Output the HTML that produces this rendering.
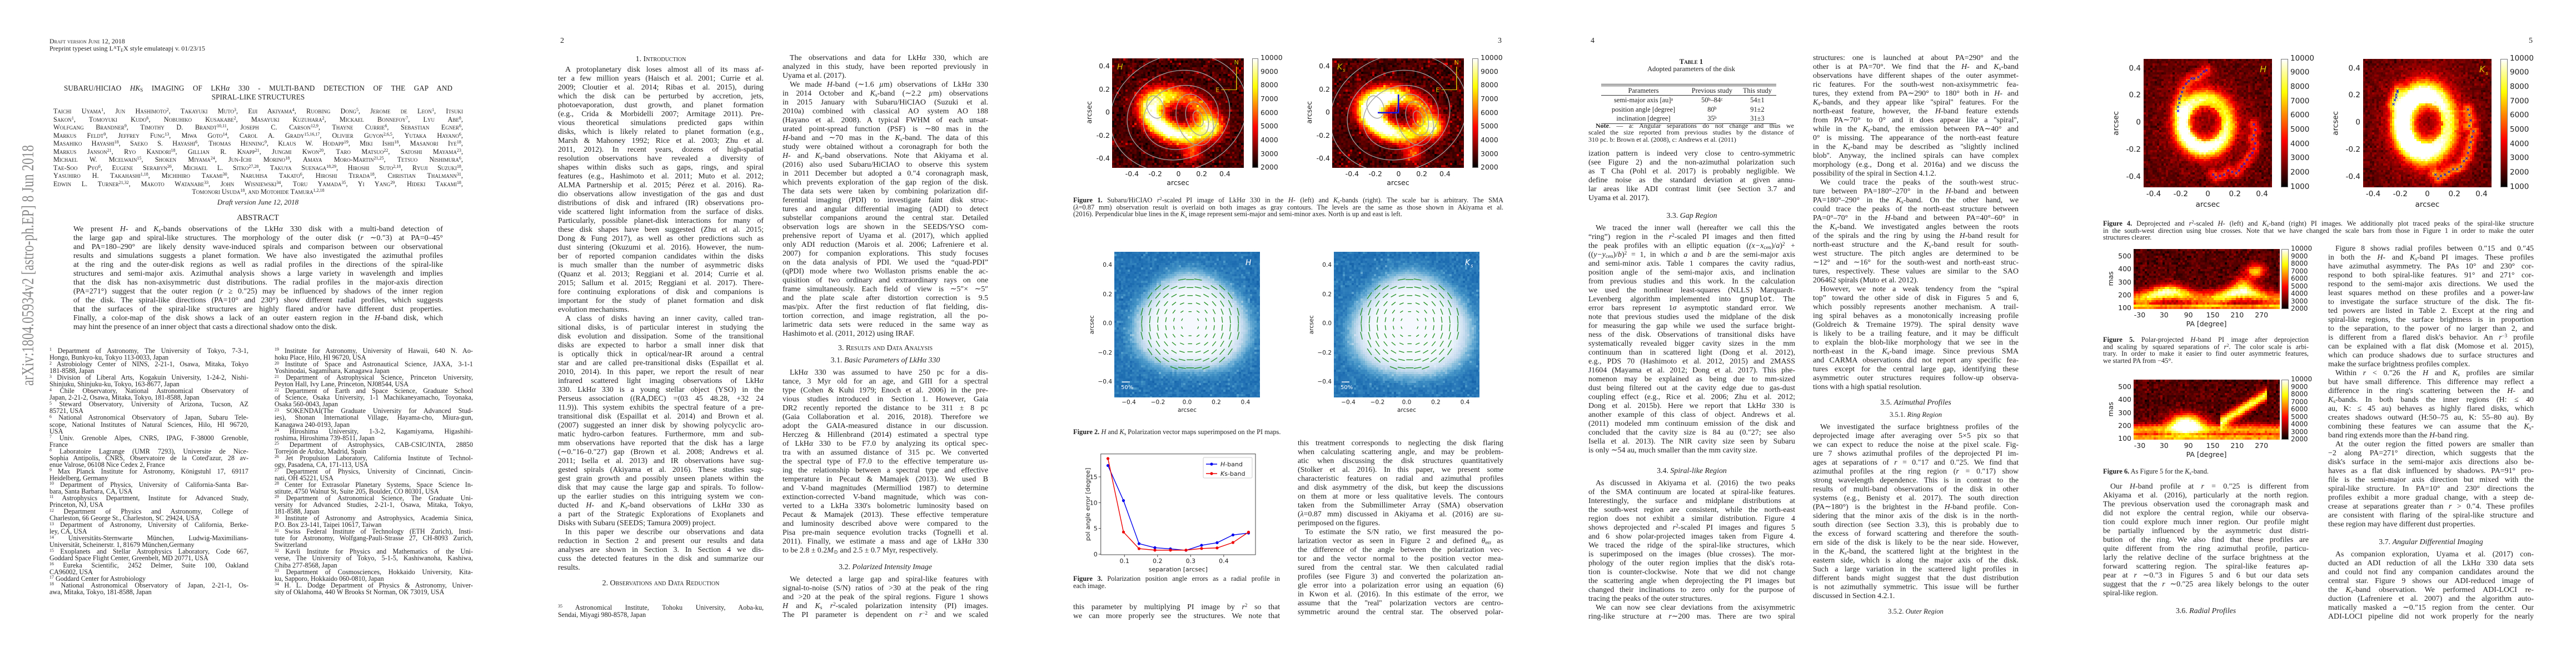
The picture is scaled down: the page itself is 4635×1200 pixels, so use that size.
<!DOCTYPE html>
<html><head><meta charset="utf-8">
<style>
html,body{margin:0;padding:0;background:#fff}
#root{position:relative;width:4635px;height:1200px;overflow:hidden;background:#fff;color:#1e1e1e;font-family:"Liberation Serif",serif}
.a{position:absolute}
.col{position:absolute;font-size:13.9px;line-height:16px}
.p{text-align:justify;text-align-last:justify}
.p .e{text-align-last:left;text-indent:0}
.i{text-indent:13px}
.h{position:absolute;text-align:center;font-size:13.9px;line-height:16px;white-space:nowrap}
.sc{font-variant:small-caps}
.fn{position:absolute;font-size:12.2px;line-height:12.05px}
.cap{position:absolute;font-size:12.4px;line-height:12.7px}
sup{font-size:.65em;vertical-align:0;position:relative;top:-.45em;line-height:0}
sub{font-size:.7em;vertical-align:0;position:relative;top:.25em;line-height:0}
.pn{position:absolute;top:66px;font-size:14px;line-height:16px}
.lab{position:absolute;font-family:"DejaVu Sans","Liberation Sans",sans-serif;white-space:nowrap;line-height:1}
.cb{position:absolute;background:linear-gradient(to top,#000 0%,#f00 36.5%,#ff0 74.6%,#fff 100%);border:1px solid #777;box-sizing:border-box}
table.t{border-collapse:collapse;font-size:12.4px;line-height:14.4px}
</style></head>
<body><div id="root">

<!-- ================= PAGE 1 ================= -->
<div class="a" style="left:89px;top:68px;font-size:12px;line-height:13px;white-space:nowrap">
<div class="sc">Draft version June 12, 2018</div>
<div>Preprint typeset using L<sup>A</sup>T<sub>E</sub>X style emulateapj v. 01/23/15</div>
</div>

<svg class="a" style="left:20px;top:250px" width="50" height="460">
<text transform="translate(40,444) rotate(-90)" font-family="Liberation Serif, serif" font-size="31" fill="#8a8a8a" textLength="433" lengthAdjust="spacingAndGlyphs">arXiv:1804.05934v2  [astro-ph.EP]  8 Jun 2018</text>
</svg>

<div class="col" style="left:115px;top:151px;width:699px;font-size:13.2px;text-transform:uppercase">
<div class="p">Subaru/HiCIAO <i style="text-transform:none">HK</i><sub>S</sub> Imaging of LkH<i style="text-transform:none">α</i> 330 - Multi-band detection of the gap and</div>
<div style="text-align:center">Spiral-like structures</div>
</div>

<div class="col sc" style="left:96px;top:193px;width:737px;font-size:12.3px;line-height:14.5px">
<div class="p">Taichi Uyama<sup>1</sup>, Jun Hashimoto<sup>2</sup>, Takayuki Muto<sup>3</sup>, Eiji Akiyama<sup>4</sup>, Ruobing Dong<sup>5</sup>, Jerome de Leon<sup>1</sup>, Itsuki<br>Sakon<sup>1</sup>, Tomoyuki Kudo<sup>6</sup>, Nobuhiko Kusakabe<sup>2</sup>, Masayuki Kuzuhara<sup>2</sup>, Mickael Bonnefoy<sup>7</sup>, Lyu Abe<sup>8</sup>,<br>Wolfgang Brandner<sup>9</sup>, Timothy D. Brandt<sup>10,11</sup>, Joseph C. Carson<sup>12,9</sup>, Thayne Currie<sup>6</sup>, Sebastian Egner<sup>6</sup>,<br>Markus Feldt<sup>9</sup>, Jeffrey Fung<sup>13</sup>, Miwa Goto<sup>14</sup>, Carol A. Grady<sup>15,16,17</sup>, Olivier Guyon<sup>2,6,5</sup>, Yutaka Hayano<sup>6</sup>,<br>Masahiko Hayashi<sup>18</sup>, Saeko S. Hayashi<sup>6</sup>, Thomas Henning<sup>9</sup>, Klaus W. Hodapp<sup>19</sup>, Miki Ishii<sup>18</sup>, Masanori Iye<sup>18</sup>,<br>Markus Janson<sup>21</sup>, Ryo Kandori<sup>18</sup>, Gillian R. Knapp<sup>21</sup>, Jungmi Kwon<sup>20</sup>, Taro Matsuo<sup>22</sup>, Satoshi Mayama<sup>23</sup>,<br>Michael W. Mcelwain<sup>15</sup>, Shoken Miyama<sup>24</sup>, Jun-Ichi Morino<sup>18</sup>, Amaya Moro-Martin<sup>21,25</sup>, Tetsuo Nishimura<sup>6</sup>,<br>Tae-Soo Pyo<sup>6</sup>, Eugene Serabyn<sup>26</sup>, Michael L. Sitko<sup>27,28</sup>, Takuya Suenaga<sup>18,29</sup>, Hiroshi Suto<sup>2,18</sup>, Ryuji Suzuki<sup>18</sup>,<br>Yasuhiro H. Takahashi<sup>1,18</sup>, Michihiro Takami<sup>30</sup>, Naruhisa Takato<sup>6</sup>, Hiroshi Terada<sup>18</sup>, Christian Thalmann<sup>31</sup>,<br>Edwin L. Turner<sup>21,32</sup>, Makoto Watanabe<sup>33</sup>, John Wisniewski<sup>34</sup>, Toru Yamada<sup>35</sup>, Yi Yang<sup>29</sup>, Hideki Takami<sup>18</sup>,</div>
<div style="text-align:center">Tomonori Usuda<sup>18</sup>, and Motohide Tamura<sup>1,2,18</sup></div>
</div>

<div class="h" style="left:364px;width:200px;top:356px;font-size:13px;font-style:italic">Draft version June 12, 2018</div>
<div class="h" style="left:364px;width:200px;top:384px;font-size:14.5px">ABSTRACT</div>

<div class="col" style="left:132px;top:405px;width:665px">
<div class="p">We present <i>H</i>- and <i>K</i><sub>s</sub>-bands observations of the LkH<i>α</i> 330 disk with a multi-band detection of<br>the large gap and spiral-like structures. The morphology of the outer disk (<i>r</i> ∼0.″3) at PA=0–45°<br>and PA=180–290° are likely density wave-induced spirals and comparison between our observational<br>results and simulations suggests a planet formation. We have also investigated the azimuthal profiles<br>at the ring and the outer-disk regions as well as radial profiles in the directions of the spiral-like<br>structures and semi-major axis. Azimuthal analysis shows a large variety in wavelength and implies<br>that the disk has non-axisymmetric dust distributions. The radial profiles in the major-axis direction<br>(PA=271°) suggest that the outer region (<i>r</i> ≥ 0.″25) may be influenced by shadows of the inner region<br>of the disk. The spiral-like directions (PA=10° and 230°) show different radial profiles, which suggests<br>that the surfaces of the spiral-like structures are highly flared and/or have different dust properties.<br>Finally, a color-map of the disk shows a lack of an outer eastern region in the <i>H</i>-band disk, which<div class="e">may hint the presence of an inner object that casts a directional shadow onto the disk.</div></div>
</div>

<div class="fn" style="left:89px;top:625px;width:358px">
<div class="p"><sup>1</sup> Department of Astronomy, The University of Tokyo, 7-3-1,<div class="e">Hongo, Bunkyo-ku, Tokyo 113-0033, Japan</div></div>
<div class="p"><sup>2</sup> Astrobiology Center of NINS, 2-21-1, Osawa, Mitaka, Tokyo<div class="e">181-8588, Japan</div></div>
<div class="p"><sup>3</sup> Division of Liberal Arts, Kogakuin University, 1-24-2, Nishi-<div class="e">Shinjuku, Shinjuku-ku, Tokyo, 163-8677, Japan</div></div>
<div class="p"><sup>4</sup> Chile Observatory, National Astronomical Observatory of<div class="e">Japan, 2-21-2, Osawa, Mitaka, Tokyo, 181-8588, Japan</div></div>
<div class="p"><sup>5</sup> Steward Observatory, University of Arizona, Tucson, AZ<div class="e">85721, USA</div></div>
<div class="p"><sup>6</sup> National Astronomical Observatory of Japan, Subaru Tele-<br>scope, National Institutes of Natural Sciences, Hilo, HI 96720,<div class="e">USA</div></div>
<div class="p"><sup>7</sup> Univ. Grenoble Alpes, CNRS, IPAG, F-38000 Grenoble,<div class="e">France</div></div>
<div class="p"><sup>8</sup> Laboratoire Lagrange (UMR 7293), Universite de Nice-<br>Sophia Antipolis, CNRS, Observatoire de la Coted'azur, 28 av-<div class="e">enue Valrose, 06108 Nice Cedex 2, France</div></div>
<div class="p"><sup>9</sup> Max Planck Institute for Astronomy, Königstuhl 17, 69117<div class="e">Heidelberg, Germany</div></div>
<div class="p"><sup>10</sup> Department of Physics, University of California-Santa Bar-<div class="e">bara, Santa Barbara, CA, USA</div></div>
<div class="p"><sup>11</sup> Astrophysics Department, Institute for Advanced Study,<div class="e">Princeton, NJ, USA</div></div>
<div class="p"><sup>12</sup> Department of Physics and Astronomy, College of<div class="e">Charleston, 66 George St., Charleston, SC 29424, USA</div></div>
<div class="p"><sup>13</sup> Department of Astronomy, University of California, Berke-<div class="e">ley, CA, USA</div></div>
<div class="p"><sup>14</sup> Universitäts-Sternwarte München, Ludwig-Maximilians-<div class="e">Universität, Scheinerstr. 1, 81679 München,Germany</div></div>
<div class="p"><sup>15</sup> Exoplanets and Stellar Astrophysics Laboratory, Code 667,<div class="e">Goddard Space Flight Center, Greenbelt, MD 20771, USA</div></div>
<div class="p"><sup>16</sup> Eureka Scientific, 2452 Delmer, Suite 100, Oakland<div class="e">CA96002, USA</div></div>
<div class="p"><div class="e"><sup>17</sup> Goddard Center for Astrobiology</div></div>
<div class="p"><sup>18</sup> National Astronomical Observatory of Japan, 2-21-1, Os-<div class="e">awa, Mitaka, Tokyo, 181-8588, Japan</div></div>
</div>

<div class="fn" style="left:494px;top:625px;width:357px">
<div class="p"><sup>19</sup> Institute for Astronomy, University of Hawaii, 640 N. Ao-<div class="e">hoku Place, Hilo, HI 96720, USA</div></div>
<div class="p"><sup>20</sup> Institute of Space and Astronautical Science, JAXA, 3-1-1<div class="e">Yoshinodai, Sagamihara, Kanagawa Japan</div></div>
<div class="p"><sup>21</sup> Department of Astrophysical Science, Princeton University,<div class="e">Peyton Hall, Ivy Lane, Princeton, NJ08544, USA</div></div>
<div class="p"><sup>22</sup> Department of Earth and Space Science, Graduate School<br>of Science, Osaka University, 1-1 Machikaneyamacho, Toyonaka,<div class="e">Osaka 560-0043, Japan</div></div>
<div class="p"><sup>23</sup> SOKENDAI(The Graduate University for Advanced Stud-<br>ies), Shonan International Village, Hayama-cho, Miura-gun,<div class="e">Kanagawa 240-0193, Japan</div></div>
<div class="p"><sup>24</sup> Hiroshima University, 1-3-2, Kagamiyama, Higashihi-<div class="e">roshima, Hiroshima 739-8511, Japan</div></div>
<div class="p"><sup>25</sup> Department of Astrophysics, CAB-CSIC/INTA, 28850<div class="e">Torrejón de Ardoz, Madrid, Spain</div></div>
<div class="p"><sup>26</sup> Jet Propulsion Laboratory, California Institute of Technol-<div class="e">ogy, Pasadena, CA, 171-113, USA</div></div>
<div class="p"><sup>27</sup> Department of Physics, University of Cincinnati, Cincin-<div class="e">nati, OH 45221, USA</div></div>
<div class="p"><sup>28</sup> Center for Extrasolar Planetary Systems, Space Science In-<div class="e">stitute, 4750 Walnut St, Suite 205, Boulder, CO 80301, USA</div></div>
<div class="p"><sup>29</sup> Department of Astronomical Science, The Graduate Uni-<br>versity for Advanced Studies, 2-21-1, Osawa, Mitaka, Tokyo,<div class="e">181-8588, Japan</div></div>
<div class="p"><sup>30</sup> Institute of Astronomy and Astrophysics, Academia Sinica,<div class="e">P.O. Box 23-141, Taipei 10617, Taiwan</div></div>
<div class="p"><sup>31</sup> Swiss Federal Institute of Technology (ETH Zurich), Insti-<br>tute for Astronomy, Wolfgang-Pauli-Strasse 27, CH-8093 Zurich,<div class="e">Switzerland</div></div>
<div class="p"><sup>32</sup> Kavli Institute for Physics and Mathematics of the Uni-<br>verse, The University of Tokyo, 5-1-5, Kashiwanoha, Kashiwa,<div class="e">Chiba 277-8568, Japan</div></div>
<div class="p"><sup>33</sup> Department of Cosmosciences, Hokkaido University, Kita-<div class="e">ku, Sapporo, Hokkaido 060-0810, Japan</div></div>
<div class="p"><sup>34</sup> H. L. Dodge Department of Physics &amp; Astronomy, Univer-<div class="e">sity of Oklahoma, 440 W Brooks St Norman, OK 73019, USA</div></div>
</div>

<!-- ================= PAGE 2 ================= -->
<div class="pn" style="left:1008px">2</div>
<div class="h sc" style="left:1089px;width:200px;top:99px">1. Introduction</div>
<div class="col" style="left:1004px;top:118px;width:370px">
<div class="p i">A protoplanetary disk loses almost all of its mass af-<br>ter a few million years (Haisch et al. 2001; Currie et al.<br>2009; Cloutier et al. 2014; Ribas et al. 2015), during<br>which the disk can be perturbed by accretion, jets,<br>photoevaporation, dust growth, and planet formation<br>(e.g., Crida &amp; Morbidelli 2007; Armitage 2011). Pre-<br>vious theoretical simulations predicted gaps within<br>disks, which is likely related to planet formation (e.g.,<br>Marsh &amp; Mahoney 1992; Rice et al. 2003; Zhu et al.<br>2011, 2012). In recent years, dozens of high-spatial<br>resolution observations have revealed a diversity of<br>shapes within disks such as gaps, rings, and spiral<br>features (e.g., Hashimoto et al. 2011; Muto et al. 2012;<br>ALMA Partnership et al. 2015; Pérez et al. 2016). Ra-<br>dio observations allow investigation of the gas and dust<br>distributions of disk and infrared (IR) observations pro-<br>vide scattered light information from the surface of disks.<br>Particularly, possible planet-disk interactions for many of<br>these disk shapes have been suggested (Zhu et al. 2015;<br>Dong &amp; Fung 2017), as well as other predictions such as<br>dust sintering (Okuzumi et al. 2016). However, the num-<br>ber of reported companion candidates within the disks<br>is much smaller than the number of asymmetric disks<br>(Quanz et al. 2013; Reggiani et al. 2014; Currie et al.<br>2015; Sallum et al. 2015; Reggiani et al. 2017). There-<br>fore continuing explorations of disk and companions is<br>important for the study of planet formation and disk<div class="e">evolution mechanisms.</div></div>
<div class="p i">A class of disks having an inner cavity, called tran-<br>sitional disks, is of particular interest in studying the<br>disk evolution and dissipation. Some of the transitional<br>disks are expected to harbor a small inner disk that<br>is optically thick in optical/near-IR around a central<br>star and are called pre-transitional disks (Espaillat et al.<br>2010, 2014). In this paper, we report the result of near<br>infrared scattered light imaging observations of LkH<i>α</i><br>330. LkH<i>α</i> 330 is a young stellar object (YSO) in the<br>Perseus association ((RA,DEC) =(03 45 48.28, +32 24<br>11.9)). This system exhibits the spectral feature of a pre-<br>transitional disk (Espaillat et al. 2014) and Brown et al.<br>(2007) suggested an inner disk by showing polycyclic aro-<br>matic hydro-carbon features. Furthermore, mm and sub-<br>mm observations have reported that the disk has a large<br>(∼0.″16–0.″27) gap (Brown et al. 2008; Andrews et al.<br>2011; Isella et al. 2013) and IR observations have sug-<br>gested spirals (Akiyama et al. 2016). These studies sug-<br>gest grain growth and possibly unseen planets within the<br>disk that may cause the large gap and spirals. To follow-<br>up the earlier studies on this intriguing system we con-<br>ducted <i>H</i>- and <i>K</i><sub>s</sub>-band observations of LkH<i>α</i> 330 as<br>a part of the Strategic Explorations of Exoplanets and<div class="e">Disks with Subaru (SEEDS; Tamura 2009) project.</div></div>
<div class="p i">In this paper we describe our observations and data<br>reduction in Section 2 and present our results and data<br>analyses are shown in Section 3. In Section 4 we dis-<br>cuss the detected features in the disk and summarize our<div class="e">results.</div></div>
</div>
<div class="h sc" style="left:1039px;width:300px;top:1042px">2. Observations and Data Reduction</div>
<div class="fn" style="left:1004px;top:1087px;width:370px;line-height:13px">
<div class="p"><sup>35</sup> Astronomical Institute, Tohoku University, Aoba-ku,<div class="e">Sendai, Miyagi 980-8578, Japan</div></div>
</div>

<div class="col" style="left:1408px;top:97px;width:370px">
<div class="p i">The observations and data for LkH<i>α</i> 330, which are<br>analyzed in this study, have been reported previously in<div class="e">Uyama et al. (2017).</div></div>
<div class="p i">We made <i>H</i>-band (∼1.6 <i>µ</i>m) observations of LkH<i>α</i> 330<br>in 2014 October and <i>K</i><sub>s</sub>-band (∼2.2 <i>µ</i>m) observations<br>in 2015 January with Subaru/HiCIAO (Suzuki et al.<br>2010a) combined with classical AO system AO 188<br>(Hayano et al. 2008). A typical FWHM of each unsat-<br>urated point-spread function (PSF) is ∼80 mas in the<br><i>H</i>-band and ∼70 mas in the <i>K</i><sub>s</sub>-band. The data of this<br>study were obtained without a coronagraph for both the<br><i>H</i>- and <i>K</i><sub>s</sub>-band observations. Note that Akiyama et al.<br>(2016) also used Subaru/HiCIAO to observe this system<br>in 2011 December but adopted a 0.″4 coronagraph mask,<br>which prevents exploration of the gap region of the disk.<br>The data sets were taken by combining polarization dif-<br>ferential imaging (PDI) to investigate faint disk struc-<br>tures and angular differential imaging (ADI) to detect<br>substellar companions around the central star. Detailed<br>observation logs are shown in the SEEDS/YSO com-<br>prehensive report of Uyama et al. (2017), which applied<br>only ADI reduction (Marois et al. 2006; Lafreniere et al.<br>2007) for companion explorations. This study focuses<br>on the data analysis of PDI. We used the “quad-PDI”<br>(qPDI) mode where two Wollaston prisms enable the ac-<br>quisition of two ordinary and extraordinary rays on one<br>frame simultaneously. Each field of view is ∼5″× ∼5″<br>and the plate scale after distortion correction is 9.5<br>mas/pix. After the first reduction of flat fielding, dis-<br>tortion correction, and image registration, all the po-<br>larimetric data sets were reduced in the same way as<div class="e">Hashimoto et al. (2011, 2012) using IRAF.</div></div>
</div>
<div class="h sc" style="left:1443px;width:300px;top:619px">3. Results and Data Analysis</div>
<div class="h" style="left:1443px;width:300px;top:641px">3.1. <i>Basic Parameters of LkHα 330</i></div>
<div class="col" style="left:1408px;top:663px;width:370px">
<div class="p i">LkH<i>α</i> 330 was assumed to have 250 pc for a dis-<br>tance, 3 Myr old for an age, and GIII for a spectral<br>type (Cohen &amp; Kuhi 1979; Enoch et al. 2006) in the pre-<br>vious studies introduced in Section 1. However, Gaia<br>DR2 recently reported the distance to be 311 ± 8 pc<br>(Gaia Collaboration et al. 2016, 2018). Therefore we<br>adopt the GAIA-measured distance in our discussion.<br>Herczeg &amp; Hillenbrand (2014) estimated a spectral type<br>of LkH<i>α</i> 330 to be F7.0 by analyzing its optical spec-<br>tra with an assumed distance of 315 pc. We converted<br>the spectral type of F7.0 to the effective temperature us-<br>ing the relationship between a spectral type and effective<br>temperature in Pecaut &amp; Mamajek (2013). We used B<br>and V-band magnitudes (Mermilliod 1987) to determine<br>extinction-corrected V-band magnitude, which was con-<br>verted to a LkHa 330's bolometric luminosity based on<br>Pecaut &amp; Mamajek (2013). These effective temperature<br>and luminosity described above were compared to the<br>Pisa pre-main sequence evolution tracks (Tognelli et al.<br>2011). Finally, we estimate a mass and age of LkH<i>α</i> 330<div class="e">to be 2.8 ± 0.2<i>M</i><sub>⊙</sub> and 2.5 ± 0.7 Myr, respectively.</div></div>
</div>
<div class="h" style="left:1443px;width:300px;top:1013px">3.2. <i>Polarized Intensity Image</i></div>
<div class="col" style="left:1408px;top:1035px;width:370px">
<div class="p i">We detected a large gap and spiral-like features with<br>signal-to-noise (S/N) ratios of &gt;30 at the peak of the ring<br>and &gt;20 at the peak of the spiral regions. Figure 1 shows<br><i>H</i> and <i>K</i><sub>s</sub> <i>r</i><sup>2</sup>-scaled polarization intensity (PI) images.<br>The PI parameter is dependent on <i>r</i><sup>−2</sup> and we scaled</div>
</div>

<!-- ================= PAGE 3 ================= -->
<div class="pn" style="left:2695px">3</div>

<div class="cap" style="left:1931px;top:354px;width:774px">
<div class="p"><b>Figure 1.</b> Subaru/HiCIAO <i>r</i><sup>2</sup>-scaled PI image of LkH<i>α</i> 330 in the <i>H</i>- (left) and <i>K</i><sub>s</sub>-bands (right). The scale bar is arbitrary. The SMA<br>(<i>λ</i>=0.87 mm) observation result is overlaid on both images as gray contours. The levels are the same as those shown in Akiyama et al.<div class="e">(2016). Perpendicular blue lines in the <i>K</i><sub>s</sub> image represent semi-major and semi-minor axes. North is up and east is left.</div></div>
</div>
<div class="cap" style="left:1931px;top:771px;width:500px;white-space:nowrap"><b>Figure 2.</b> <i>H</i> and <i>K</i><sub>s</sub> Polarization vector maps superimposed on the PI maps.</div>
<div class="cap" style="left:1931px;top:1035px;width:372px">
<div class="p"><b>Figure 3.</b> Polarization position angle errors as a radial profile in<div class="e">each image.</div></div>
</div>
<div class="col" style="left:1931px;top:1085px;width:372px">
<div class="p">this parameter by multiplying PI image by <i>r</i><sup>2</sup> so that<br>we can more properly see the structures. We note that</div>
</div>
<div class="col" style="left:2335px;top:790px;width:370px">
<div class="p">this treatment corresponds to neglecting the disk flaring<br>when calculating scattering angle, and may be problem-<br>atic when discussing the disk structures quantitatively<br>(Stolker et al. 2016). In this paper, we present some<br>characteristic features on radial and azimuthal profiles<br>and disk asymmetry of the disk, but keep the discussions<br>on them at more or less qualitative levels. The contours<br>taken from the Submillimeter Array (SMA) observation<br>(<i>λ</i>=0.87 mm) discussed in Akiyama et al. (2016) are su-<div class="e">perimposed on the figures.</div></div>
<div class="p i">To estimate the S/N ratio, we first measured the po-<br>larization vector as seen in Figure 2 and defined <i>θ</i><sub>err</sub> as<br>the difference of the angle between the polarization vec-<br>tor and the vector normal to the position vector mea-<br>sured from the central star. We then calculated radial<br>profiles (see Figure 3) and converted the polarization an-<br>gle error into a polarization error using an equation (6)<br>in Kwon et al. (2016). In this estimate of the error, we<br>assume that the ''real'' polarization vectors are centro-<br>symmetric around the central star. The observed polar-</div>
</div>

<svg class="a" id="fig3" style="left:1940px;top:800px" width="330" height="240"></svg>

<!-- ================= PAGE 4 ================= -->
<div class="pn" style="left:2862px">4</div>
<div class="h sc" style="left:2943px;width:200px;top:103px;font-size:12.6px;font-weight:bold">Table 1</div>
<div class="h" style="left:2943px;width:200px;top:116px;font-size:12.6px">Adopted parameters of the disk</div>
<div class="a" style="left:2881px;top:151px;width:315px">
<div style="border-top:1px solid #333;height:2px;border-bottom:1px solid #333"></div>
<table class="t" style="width:315px">
<tr style="border-bottom:1px solid #333"><td style="text-align:center;width:150px">Parameters</td><td style="text-align:center">Previous study</td><td style="text-align:center">This study</td></tr>
<tr><td style="text-align:center">semi-major axis [au]<sup>a</sup></td><td style="text-align:center">50<sup>b</sup>–84<sup>c</sup></td><td style="text-align:center">54±1</td></tr>
<tr><td style="text-align:center">position angle [degree]</td><td style="text-align:center">80<sup>b</sup></td><td style="text-align:center">91±2</td></tr>
<tr style="border-bottom:1px solid #333"><td style="text-align:center">inclination [degree]</td><td style="text-align:center">35<sup>b</sup></td><td style="text-align:center">31±3</td></tr>
</table></div>
<div class="cap" style="left:2858px;top:220px;width:370px;font-size:12px;line-height:12.4px">
<div class="p i"><b>Note</b>. — a: Angular separations do not change and thus we<br>scaled the size reported from previous studies by the distance of<div class="e">310 pc. b: Brown et al. (2008), c: Andrews et al. (2011)</div></div>
</div>
<div class="col" style="left:2858px;top:269px;width:372px">
<div class="p">ization pattern is indeed very close to centro-symmetric<br>(see Figure 2) and the non-azimuthal polarization such<br>as T Cha (Pohl et al. 2017) is probably negligible. We<br>define noise as the standard deviation at given annu-<br>lar areas like ADI contrast limit (see Section 3.7 and<div class="e">Uyama et al. 2017).</div></div>
</div>
<div class="h" style="left:2894px;width:300px;top:381px">3.3. <i>Gap Region</i></div>
<div class="col" style="left:2858px;top:403px;width:372px">
<div class="p i">We traced the inner wall (hereafter we call this the<br>“ring”) region in the <i>r</i><sup>2</sup>-scaled PI images and then fitted<br>the peak profiles with an elliptic equation (<i>(x−x</i><sub>cen</sub>)/<i>a</i>)<sup>2</sup> +<br>((<i>y−y</i><sub>cen</sub>)/<i>b</i>)<sup>2</sup> = 1, in which <i>a</i> and <i>b</i> are the semi-major axis<br>and semi-minor axis. Table 1 compares the cavity radius,<br>position angle of the semi-major axis, and inclination<br>from previous studies and this work. In the calculation<br>we used the nonlinear least-squares (NLLS) Marquardt-<br>Levenberg algorithm implemented into <span style="font-family:'Liberation Mono',monospace">gnuplot</span>. The<br>error bars represent 1<i>σ</i> asymptotic standard error. We<br>note that previous studies used the midplane of the disk<br>for measuring the gap while we used the surface bright-<br>ness of the disk. Observations of transitional disks have<br>systematically revealed bigger cavity sizes in the mm<br>continuum than in scattered light (Dong et al. 2012),<br>e.g., PDS 70 (Hashimoto et al. 2012, 2015) and 2MASS<br>J1604 (Mayama et al. 2012; Dong et al. 2017). This phe-<br>nomenon may be explained as being due to mm-sized<br>dust being filtered out at the cavity edge due to gas-dust<br>coupling effect (e.g., Rice et al. 2006; Zhu et al. 2012;<br>Dong et al. 2015b). Here we report that LkH<i>α</i> 330 is<br>another example of this class of object. Andrews et al.<br>(2011) modeled mm continuum emission of the disk and<br>concluded that the cavity size is 84 au (0.″27; see also<br>Isella et al. 2013). The NIR cavity size seen by Subaru<div class="e">is only ∼54 au, much smaller than the mm cavity size.</div></div>
</div>
<div class="h" style="left:2894px;width:300px;top:840px">3.4. <i>Spiral-like Region</i></div>
<div class="col" style="left:2858px;top:862px;width:372px">
<div class="p i">As discussed in Akiyama et al. (2016) the two peaks<br>of the SMA continuum are located at spiral-like features.<br>Interestingly, the surface and midplane distributions at<br>the south-west region are consistent, while the north-east<br>region does not exhibit a similar distribution. Figure 4<br>shows deprojected and <i>r</i><sup>2</sup>-scaled PI images and figures 5<br>and 6 show polar-projected images taken from Figure 4.<br>We traced the ridge of the spiral-like structures, which<br>is superimposed on the images (blue crosses). The mor-<br>phology of the outer region implies that the disk's rota-<br>tion is counter-clockwise. Note that we did not change<br>the scattering angle when deprojecting the PI images but<br>changed their inclinations to zero only for the purpose of<div class="e">tracing the peaks of the outer structures.</div></div>
<div class="p i">We can now see clear deviations from the axisymmetric<br>ring-like structure at <i>r</i>∼200 mas. There are two spiral</div>
</div>

<div class="col" style="left:3262px;top:97px;width:370px">
<div class="p">structures: one is launched at about PA=290° and the<br>other is at PA=70°. We find that the <i>H</i>- and <i>K</i><sub>s</sub>-band<br>observations have different shapes of the outer asymmet-<br>ric features. For the south-west non-axisymmetric fea-<br>tures, they extend from PA∼290° to 180° both in <i>H</i>- and<br><i>K</i><sub>s</sub>-bands, and they appear like ''spiral'' features. For the<br>north-east feature, however, the <i>H</i>-band feature extends<br>from PA∼70° to 0° and it does appear like a ''spiral'',<br>while in the <i>K</i><sub>s</sub>-band, the emission between PA∼40° and<br>0° is missing. The appearance of the north-east feature<br>in the <i>K</i><sub>s</sub>-band may be described as ''slightly inclined<br>blob''. Anyway, the inclined spirals can have complex<br>morphology (e.g., Dong et al. 2016a) and we discuss the<div class="e">possibility of the spiral in Section 4.1.2.</div></div>
<div class="p i">We could trace the peaks of the south-west struc-<br>ture between PA=180°–270° in the <i>H</i>-band and between<br>PA=180°–290° in the <i>K</i><sub>s</sub>-band. On the other hand, we<br>could trace the peaks of the north-east structure between<br>PA=0°–70° in the <i>H</i>-band and between PA=40°–60° in<br>the <i>K</i><sub>s</sub>-band. We investigated angles between the roots<br>of the spirals and the ring by using the <i>H</i>-band result for<br>north-east structure and the <i>K</i><sub>s</sub>-band result for south-<br>west structure. The pitch angles are determined to be<br>∼12° and ∼16° for the south-west and north-east struc-<br>tures, respectively. These values are similar to the SAO<div class="e">206462 spirals (Muto et al. 2012).</div></div>
<div class="p i">However, we note a weak tendency from the “spiral<br>top” toward the other side of disk in Figures 5 and 6,<br>which possibly represents another mechanism. A trail-<br>ing spiral behaves as a monotonically increasing profile<br>(Goldreich &amp; Tremaine 1979). The spiral density wave<br>is likely to be a trailing feature, and it may be difficult<br>to explain the blob-like morphology that we see in the<br>north-east in the <i>K</i><sub>s</sub>-band image. Since previous SMA<br>and CARMA observations did not report any specific fea-<br>tures except for the central large gap, identifying these<br>asymmetric outer structures requires follow-up observa-<div class="e">tions with a high spatial resolution.</div></div>
</div>
<div class="h" style="left:3297px;width:300px;top:717px">3.5. <i>Azimuthal Profiles</i></div>
<div class="h" style="left:3297px;width:300px;top:738px;font-size:12.6px">3.5.1. <i>Ring Region</i></div>
<div class="col" style="left:3262px;top:761px;width:370px">
<div class="p i">We investigated the surface brightness profiles of the<br>deprojected image after averaging over 5×5 pix so that<br>we can expect to reduce the noise at the pixel scale. Fig-<br>ure 7 shows azimuthal profiles of the deprojected PI im-<br>ages at separations of <i>r</i> = 0.″17 and 0.″25. We find that<br>azimuthal profiles at the ring region (<i>r</i> = 0.″17) show<br>strong wavelength dependence. This is in contrast to the<br>results of multi-band observations of the disk in other<br>systems (e.g., Benisty et al. 2017). The south direction<br>(PA∼180°) is the brightest in the <i>H</i>-band profile. Con-<br>sidering that the minor axis of the disk is in the north-<br>south direction (see Section 3.3), this is probably due to<br>the excess of forward scattering and therefore the south-<br>ern side of the disk is likely to be the near side. However,<br>in the <i>K</i><sub>s</sub>-band, the scattered light at the brightest in the<br>eastern side, which is along the major axis of the disk.<br>Such a large variation in the scattered light profiles in<br>different bands might suggest that the dust distribution<br>is not azimuthally symmetric. This issue will be further<div class="e">discussed in Section 4.2.1.</div></div>
</div>
<div class="h" style="left:3297px;width:300px;top:1092px;font-size:12.6px">3.5.2. <i>Outer Region</i></div>

<!-- ================= PAGE 5 ================= -->
<div class="pn" style="left:4550px">5</div>
<div class="cap" style="left:3784px;top:396px;width:775px">
<div class="p"><b>Figure 4.</b> Deprojected and <i>r</i><sup>2</sup>-scaled <i>H</i>- (left) and <i>K</i><sub>s</sub>-band (right) PI images. We additionally plot traced peaks of the spiral-like structure<br>in the south-west direction using blue crosses. Note that we have changed the scale bars from those in Figure 1 in order to make the outer<div class="e">structures clearer.</div></div>
</div>
<div class="cap" style="left:3784px;top:605px;width:370px">
<div class="p"><b>Figure 5.</b> Polar-projected <i>H</i>-band PI image after deprojection<br>and scaling by squared separations of <i>r</i><sup>2</sup>. The color scale is arbi-<br>trary. In order to make it easier to find outer asymmetric features,<div class="e">we started PA from −45°.</div></div>
</div>
<div class="cap" style="left:3784px;top:842px;width:370px"><b>Figure 6.</b> As Figure 5 for the <i>K</i><sub>s</sub>-band.</div>
<div class="col" style="left:3784px;top:868px;width:370px">
<div class="p i">Our <i>H</i>-band profile at <i>r</i> = 0.″25 is different from<br>Akiyama et al. (2016), particularly at the north region.<br>The previous observation used the coronagraph mask and<br>did not explore the central region, while our observa-<br>tion could explore much inner region. Our profile might<br>be partially influenced by the asymmetric dust distri-<br>bution of the ring. We also find that these profiles are<br>quite different from the ring azimuthal profile, particu-<br>larly the relative decline of the surface brightness at the<br>forward scattering region. The spiral-like features ap-<br>pear at <i>r</i> ∼0.″3 in Figures 5 and 6 but our data sets<br>suggest that the <i>r</i> ∼0.″25 area likely belongs to the outer<div class="e">spiral-like region.</div></div>
</div>
<div class="h" style="left:3819px;width:300px;top:1092px">3.6. <i>Radial Profiles</i></div>
<div class="col" style="left:4189px;top:440px;width:370px">
<div class="p i">Figure 8 shows radial profiles between 0.″15 and 0.″45<br>in both the <i>H</i>- and <i>K</i><sub>s</sub>-band PI images. These profiles<br>have azimuthal asymmetry. The PAs 10° and 230° cor-<br>respond to both spiral-like features. 91° and 271° cor-<br>respond to the semi-major axis directions. We used the<br>least squares method on these profiles and a power-law<br>to investigate the surface structure of the disk. The fit-<br>ted powers are listed in Table 2. Except at the ring and<br>spiral-like regions, the surface brightness is in proportion<br>to the separation, to the power of no larger than 2, and<br>is different from a flared disk's behavior. An <i>r</i><sup>−3</sup> profile<br>can be explained with a flat disk (Momose et al. 2015),<br>which can produce shadows due to surface structures and<div class="e">make the surface brightness profiles complex.</div></div>
<div class="p i">Within <i>r</i> &lt; 0.″26 the <i>H</i> and <i>K</i><sub>s</sub> profiles are similar<br>but have small difference. This difference may reflect a<br>difference in the ring's scattering between the <i>H</i>- and<br><i>K</i><sub>s</sub>-bands. In both bands the inner regions (H: ≤ 40<br>au, K: ≤ 45 au) behaves as highly flared disks, which<br>creates shadows outward (H:50–75 au, K: 55–80 au). By<br>combining these features we can assume that the <i>K</i><sub>s</sub>-<div class="e">band ring extends more than the <i>H</i>-band ring.</div></div>
<div class="p i">At the outer region the fitted powers are smaller than<br>−2 along PA=271° direction, which suggests that the<br>disk's surface in the semi-major axis directions also be-<br>haves as a flat disk influenced by shadows. PA=91° pro-<br>file is the semi-major axis direction but mixed with the<br>spiral-like structure. In PA=10° and 230° directions the<br>profiles exhibit a more gradual change, with a steep de-<br>crease at separations greater than <i>r</i> &gt; 0.″4. These profiles<br>are consistent with flaring of the spiral-like structure and<div class="e">these region may have different dust properties.</div></div>
</div>
<div class="h" style="left:4224px;width:300px;top:968px">3.7. <i>Angular Differential Imaging</i></div>
<div class="col" style="left:4189px;top:990px;width:370px">
<div class="p i">As companion exploration, Uyama et al. (2017) con-<br>ducted an ADI reduction of all the LkH<i>α</i> 330 data sets<br>and could not find any companion candidates around the<br>central star. Figure 9 shows our ADI-reduced image of<br>the <i>K</i><sub>s</sub>-band observation. We performed ADI-LOCI re-<br>duction (Lafreniere et al. 2007) and the algorithm auto-<br>matically masked a ∼0.″15 region from the center. Our<br>ADI-LOCI pipeline did not work properly for the nearly</div>
</div>

<script>
/* ===== Figure 3 data ===== */
var sepArcsec = [0.050, 0.097, 0.144, 0.192, 0.239, 0.286, 0.333, 0.380, 0.428, 0.475];
var errHband = [17.2, 10.4, 2.05, 1.26, 1.04, 0.76, 1.73, 2.23, 3.74, 4.1];
var errKsband = [18.56, 4.3, 1.08, 0.79, 0.79, 0.79, 1.11, 1.22, 2.27, 4.28];
var fig3XTicks = [0.1, 0.2, 0.3, 0.4];
var fig3YTicks = [0, 5, 10, 15];
var fig3XTickLabels = ['0.1', '0.2', '0.3', '0.4'];
var fig3YTickLabels = ['0', '5', '10', '15'];

/* ===== Figure 4 traced spiral peaks (arcsec) ===== */
var hNEx = [-0.22,-0.22,-0.21,-0.21,-0.2,-0.19,-0.18,-0.16,-0.14,-0.12,-0.1,-0.07,-0.05,-0.03,-0.01];
var hNEy = [0.09,0.12,0.15,0.18,0.2,0.23,0.26,0.29,0.31,0.33,0.33,0.34,0.36,0.38,0.39];
var hSWx = [0.34,0.35,0.34,0.33,0.35,0.34,0.33,0.31,0.29,0.27,0.25,0.23,0.21,0.18,0.15,0.12,0.09,0.06,0.04];
var hSWy = [-0.01,-0.05,-0.09,-0.12,-0.15,-0.19,-0.22,-0.24,-0.27,-0.3,-0.32,-0.35,-0.37,-0.36,-0.35,-0.38,-0.39,-0.4,-0.38];
var ksNEx = [-0.25,-0.24,-0.23,-0.23,-0.22,-0.22];
var ksNEy = [0.14,0.17,0.19,0.21,0.23,0.24];
var ksSWx = [0.3,0.31,0.32,0.31,0.34,0.33,0.32,0.31,0.3,0.29,0.27,0.25,0.22,0.19,0.16,0.13,0.1,0.08,0.06];
var ksSWy = [0.1,0.06,0.02,-0.02,-0.06,-0.1,-0.14,-0.18,-0.22,-0.26,-0.28,-0.32,-0.34,-0.34,-0.36,-0.38,-0.39,-0.41,-0.38];

/* tick label arrays for image panels */
var arcTickLabels = ['0.4', '0.2', '0', '-0.2', '-0.4'];
var arcXTickLabels = ['-0.4', '-0.2', '0', '0.2', '0.4'];
var arcTickVals = [0.4, 0.2, 0, -0.2, -0.4];
var arcXTickVals = [-0.4, -0.2, 0, 0.2, 0.4];
var fig2YLabels = ['0.4', '0.2', '0.0', '−0.2', '−0.4'];
var fig2XLabels = ['−0.4', '−0.2', '0.0', '0.2', '0.4'];
var cbar1Labels = ['10000','9000','8000','7000','6000','5000','4000','3000','2000'];
var cbar4Labels = ['10000','9000','8000','7000','6000','5000','4000','3000','2000','1000'];
var polarPA = [-30, 30, 90, 150, 210, 270];
var polarMas = [500, 400, 300, 200, 100];

var rootEl = document.getElementById('root');
var SVGNS = 'http://www.w3.org/2000/svg';

function svgEl(parent, tag, attrs) {
  var el = document.createElementNS(SVGNS, tag);
  for (var k in attrs) el.setAttribute(k, attrs[k]);
  parent.appendChild(el);
  return el;
}

/* ----- Figure 3 chart ----- */
try {
  (function () {
    var svg = document.getElementById('fig3');
    var X0 = 40.7, X1 = 319, Y0 = 198, Y1 = 16.7;
    var xmin = 0.0285, xmax = 0.496, ymin = -0.1, ymax = 19.45;
    function xs(v) { return X0 + (v - xmin) / (xmax - xmin) * (X1 - X0); }
    function ys(v) { return Y0 - (v - ymin) / (ymax - ymin) * (Y0 - Y1); }
    var frame = svgEl(svg, 'rect', {x: X0, y: Y1, width: X1 - X0, height: Y0 - Y1, fill: 'none', stroke: '#444', 'stroke-width': 1});
    
    
    fig3XTicks.forEach(function (v, i) {
      var t = svgEl(svg, 'line', {x1: xs(v), x2: xs(v), y1: Y0, y2: Y0 + 4, stroke: '#444'});
      
      
      var tx = svgEl(svg, 'text', {x: xs(v), y: Y0 + 15, 'text-anchor': 'middle', 'font-size': 11, 'font-family': 'DejaVu Sans, sans-serif', fill: '#222'});
      tx.textContent = fig3XTickLabels[i];
      
      
    });
    fig3YTicks.forEach(function (v, i) {
      var t = svgEl(svg, 'line', {x1: X0 - 4, x2: X0, y1: ys(v), y2: ys(v), stroke: '#444'});
      
      
      var tx = svgEl(svg, 'text', {x: X0 - 6, y: ys(v) + 4, 'text-anchor': 'end', 'font-size': 11, 'font-family': 'DejaVu Sans, sans-serif', fill: '#222'});
      tx.textContent = fig3YTickLabels[i];
      
      
    });
    var xl = svgEl(svg, 'text', {x: (X0 + X1) / 2, y: 228, 'text-anchor': 'middle', 'font-size': 11, 'font-family': 'DejaVu Sans, sans-serif', fill: '#222'});
    xl.textContent = 'separation [arcsec]';
    
    
    var yl = svgEl(svg, 'text', {x: 0, y: 0, transform: 'translate(21,' + ((Y0 + Y1) / 2) + ') rotate(-90)', 'text-anchor': 'middle', 'font-size': 11, 'font-family': 'DejaVu Sans, sans-serif', fill: '#222'});
    yl.textContent = 'pol angle error [degree]';
    
    
    function series(vals, color, name) {
      var pts = sepArcsec.map(function (s, i) { return xs(s) + ',' + ys(vals[i]); }).join(' ');
      var pl = svgEl(svg, 'polyline', {points: pts, fill: 'none', stroke: color, 'stroke-width': 1.4});
      
      
      sepArcsec.forEach(function (s, i) {
        var c = svgEl(svg, 'circle', {cx: xs(s), cy: ys(vals[i]), r: 2.6, fill: color});
        
        
      });
    }
    series(errHband, '#0000ee', 'h-band');
    series(errKsband, '#ee0000', 'ks-band');
    var lg = svgEl(svg, 'rect', {x: 225, y: 23, width: 88, height: 37, fill: '#fff', stroke: '#ccc', rx: 2});
    
    
    [['#0000ee', 'H', '-band', 35], ['#ee0000', 'K', 's-band', 52]].forEach(function (e) {
      var l = svgEl(svg, 'line', {x1: 230, x2: 250, y1: e[3], y2: e[3], stroke: e[0], 'stroke-width': 1.4});
      
      
      var c = svgEl(svg, 'circle', {cx: 240, cy: e[3], r: 2.6, fill: e[0]});
      
      
      var t = svgEl(svg, 'text', {x: 256, y: e[3] + 4, 'font-size': 11, 'font-family': 'DejaVu Sans, sans-serif', fill: '#222'});
      var ts = svgEl(t, 'tspan', {'font-style': 'italic'});
      ts.textContent = e[1];
      t.appendChild(document.createTextNode(e[2]));
      
      
    });
  })();
} catch (err) {}

/* ----- helpers for image panels ----- */
function mulberry(a) { return function () { a |= 0; a = a + 0x6D2B79F5 | 0; var t = Math.imul(a ^ a >>> 15, 1 | a); t = t + Math.imul(t ^ t >>> 7, 61 | t) ^ t; return ((t ^ t >>> 14) >>> 0) / 4294967296; }; }
function clamp(v) { return v < 0 ? 0 : v > 1 ? 1 : v; }
function hotMap(t) { t = clamp(t); return [255 * clamp(t / 0.365), 255 * clamp((t - 0.365) / 0.381), 255 * clamp((t - 0.746) / 0.254)]; }
var bluesStops = [[0, [8, 48, 107]], [0.25, [8, 81, 156]], [0.45, [33, 113, 181]], [0.6, [66, 146, 198]], [0.72, [107, 174, 214]], [0.82, [158, 202, 225]], [0.9, [198, 219, 239]], [0.96, [222, 235, 247]], [1, [247, 251, 255]]];
function bluesMap(t) {
  t = clamp(t);
  for (var i = 1; i < bluesStops.length; i++) {
    if (t <= bluesStops[i][0]) {
      var a = bluesStops[i - 1], b = bluesStops[i], f = (t - a[0]) / (b[0] - a[0]);
      return [0, 1, 2].map(function (k) { return a[1][k] + f * (b[1][k] - a[1][k]); });
    }
  }
  return bluesStops[bluesStops.length - 1][1];
}
function makePanel(name, x, y, w, h) {
  var s = document.createElementNS(SVGNS, 'svg');
  s.setAttribute('width', w);
  s.setAttribute('height', h);
  s.setAttribute('class', 'a');
  s.setAttribute('shape-rendering', 'crispEdges');
  s.style.left = x + 'px';
  s.style.top = y + 'px';
  
  
  rootEl.appendChild(s);
  return s;
}
function paint(s, W, H, cell, fn, cmap, seed) {
  var rnd = mulberry(seed);
  var g = svgEl(s, 'g', {});
  
  
  for (var py = 0; py < H; py += cell) {
    for (var px = 0; px < W; px += cell) {
      var u = (px + cell / 2) / W, v = (py + cell / 2) / H;
      var n = (rnd() + rnd() + rnd() - 1.5) * 0.9;
      var sp = rnd();
      var col = cmap(fn(u, v, n, sp));
      var r = document.createElementNS(SVGNS, 'rect');
      r.setAttribute('x', px);
      r.setAttribute('y', py);
      r.setAttribute('width', cell);
      r.setAttribute('height', cell);
      r.setAttribute('fill', 'rgb(' + (col[0] | 0) + ',' + (col[1] | 0) + ',' + (col[2] | 0) + ')');
      g.appendChild(r);
    }
  }
}
function label(text, name, x, y, size, opts) {
  var d = document.createElement('div');
  d.className = 'lab';
  d.textContent = text;
  d.style.fontSize = size + 'px';
  d.style.top = (y - size * 0.55) + 'px';
  if (opts && opts.right !== undefined) { d.style.left = (opts.right - 200) + 'px'; d.style.width = '200px'; d.style.textAlign = 'right'; }
  else if (opts && opts.center) { d.style.left = (x - 100) + 'px'; d.style.width = '200px'; d.style.textAlign = 'center'; }
  else { d.style.left = x + 'px'; }
  if (opts && opts.rot) { d.style.transform = 'rotate(-90deg)'; }
  
  
  rootEl.appendChild(d);
  return d;
}
function colorbar(name, x, y, w, h, labels, size) {
  var b = document.createElement('div');
  b.className = 'cb';
  b.style.left = x + 'px'; b.style.top = y + 'px'; b.style.width = w + 'px'; b.style.height = h + 'px';
  
  
  rootEl.appendChild(b);
  labels.forEach(function (s, i) {
    label(s, 'colorbar-tick-label', x + w + 4, y + i * h / (labels.length - 1), size);
  });
}
function gauss(x, s) { return Math.exp(-(x * x) / (s * s)); }
function svgText(s, str, x, y, size, color, italic, name) {
  var t = svgEl(s, 'text', {x: x, y: y, 'font-size': size, fill: color, 'font-family': 'DejaVu Sans, sans-serif', 'font-style': italic ? 'italic' : 'normal'});
  t.textContent = str;
  
  
  return t;
}

/* ----- Figure 1 ----- */
function fig1(band, left) {
  var W = 237, H = 197, xl = -0.572, xr = 0.563, yt = 0.472, yb = -0.477;
  var ks = band !== 'H';
  var s = makePanel(ks ? 'figure-1-ks-band-image' : 'figure-1-h-band-image', left, 105, W, H);
  var ang = ks ? -0.26 : -0.35, co = Math.cos(ang), si = Math.sin(ang);
  paint(s, W, H, 4, function (u, v, n, sp) {
    var x = xl + u * (xr - xl), y = yt - v * (yt - yb);
    var yy = y + 0.02;
    var p = x * co + yy * si, q = -x * si + yy * co;
    var rr = Math.sqrt((p / 0.24) * (p / 0.24) + (q / 0.16) * (q / 0.16));
    var ring = gauss(rr - 1, 0.5);
    var phi = Math.atan2(y, x);
    var mod = ks ? 0.72 + 0.35 * Math.cos(phi - Math.PI) : 0.72 + 0.3 * Math.cos(phi - 3.84);
    var t = 0.1 + (ks ? 1.15 : 1.0) * ring * mod;
    t += (ks ? 0.55 : 0.45) * Math.exp(-((x - 0.3) * (x - 0.3) + (y + 0.13) * (y + 0.13)) / 0.008);
    t += 0.35 * Math.exp(-((x - 0.12) * (x - 0.12) + (y + 0.35) * (y + 0.35)) / 0.006);
    t += n * 0.09 + (sp < 0.05 ? 0.15 : 0);
    return t;
  }, hotMap, ks ? 7 : 3);
  function sx(v) { return (v - xl) / (xr - xl) * W; }
  function sy(v) { return (yt - v) / (yt - yb) * H; }
  var ells = [[0.17, -0.05, 0.04, 0.07], [0.16, -0.05, 0.09, 0.15], [0.14, -0.06, 0.15, 0.23], [-0.2, 0.05, 0.07, 0.1], [0.02, -0.04, 0.33, 0.27], [0.0, -0.02, 0.45, 0.38], [0.0, 0.0, 0.6, 0.5]];
  ells.forEach(function (e) {
    var cx = sx(e[0]), cy = sy(e[1]);
    var el = svgEl(s, 'ellipse', {cx: cx, cy: cy, rx: e[2] / (xr - xl) * W, ry: e[3] / (yt - yb) * H, transform: 'rotate(-20 ' + cx + ' ' + cy + ')', fill: 'none', stroke: '#a0a0a0', 'stroke-width': 1.3, 'shape-rendering': 'auto'});
    
    
  });
  var ar = svgEl(s, 'path', {d: 'M' + sx(0.37) + ' ' + sy(0.2) + 'H' + sx(0.5) + 'V' + sy(0.4), fill: 'none', stroke: '#d4c400', 'stroke-width': 1.3});
  
  
  svgText(s, 'N', sx(0.48), sy(0.42), 11, '#d4c400', false, 'north-label');
  svgText(s, 'E', sx(0.32), sy(0.18), 11, '#d4c400', false, 'east-label');
  svgText(s, ks ? 'K' : 'H', 9, 20, 14, '#d4c400', true, 'band-label');
  if (ks) svgText(s, 's', 19, 24, 9, '#d4c400', true, 'band-subscript');
  if (ks) {
    var bl = svgEl(s, 'path', {d: 'M' + sx(0) + ' ' + sy(0.16) + 'V' + sy(0) + 'H' + sx(-0.18), fill: 'none', stroke: '#1010ee', 'stroke-width': 2.5});
    
    
  }
  arcTickVals.forEach(function (v, i) { label(arcTickLabels[i], 'y-tick-label', 0, 105 + sy(v), 12.5, {right: left - 4}); });
  arcXTickVals.forEach(function (v, i) { label(arcXTickLabels[i], 'x-tick-label', left + sx(v), 314, 12.5, {center: true}); });
  label('arcsec', 'x-axis-title', left + W / 2, 330, 12.5, {center: true});
  label('arcsec', 'y-axis-title', left - 41, 203, 12.5, {center: true, rot: true});
  colorbar(ks ? 'figure-1-ks-colorbar' : 'figure-1-h-colorbar', left + 252, 105, 11, 197, cbar1Labels, 12.5);
}
try { fig1('H', 2001); } catch (err) {}
try { fig1('Ks', 2397); } catch (err) {}

/* ----- Figure 2 ----- */
function fig2(band, left) {
  var W = 262, H = 262, ks = band !== 'H';
  var s = makePanel(ks ? 'figure-2-ks-vector-map' : 'figure-2-h-vector-map', left, 453, W, H);
  var sc = 262.5, cx = W / 2, cy = H / 2 - 1;
  paint(s, W, H, 4, function (u, v, n, sp) {
    var x = (u * W - cx) / sc, y = (cy - v * H) / sc;
    var ex = ks ? 0.42 : 0.4, ey = ks ? 0.36 : 0.34;
    var dx = (x - 0.03) / ex, dy = (y + (ks ? 0.02 : 0)) / ey;
    var e = Math.sqrt(dx * dx + dy * dy) * (1 + 0.05 * Math.sin(3 * Math.atan2(y, x)));
    var val = 1 / (1 + Math.exp((e - 1) / 0.09));
    return 0.46 + 0.5 * val + n * 0.09 * (1 - val) + (sp < 0.06 ? 0.12 * (1 - val) : 0) + 0.04 * val;
  }, bluesMap, ks ? 11 : 5);
  var g = svgEl(s, 'g', {stroke: '#1f8f1f', 'stroke-width': 1.3, 'shape-rendering': 'auto'});
  
  
  for (var gx = -0.33; gx <= 0.34; gx += 0.055) {
    for (var gy = -0.3; gy <= 0.31; gy += 0.055) {
      var r = Math.sqrt(gx * gx + gy * gy);
      if ((gx / 0.36) * (gx / 0.36) + (gy / 0.32) * (gy / 0.32) > 1 || r < 0.03) continue;
      var a = Math.atan2(gy, gx) + Math.PI / 2, L = (0.008 + 0.045 * Math.min(1, r / 0.3)) * sc / 2;
      var px = cx + (gx + 0.02) * sc, py = cy - gy * sc;
      svgEl(g, 'line', {x1: px - L * Math.cos(a), y1: py + L * Math.sin(a), x2: px + L * Math.cos(a), y2: py - L * Math.sin(a)});
    }
  }
  var sb = svgEl(s, 'line', {x1: 14, x2: 28, y1: 234, y2: 234, stroke: '#fff', 'stroke-width': 1.5});
  
  
  svgText(s, '50%', 12, 247, 10, '#fff', false, 'scale-bar-label');
  svgText(s, ks ? 'K' : 'H', W - 26, 24, 14, '#fff', true, 'band-label');
  if (ks) svgText(s, 's', W - 16, 28, 9, '#fff', true, 'band-subscript');
  arcTickVals.forEach(function (v, i) { label(fig2YLabels[i], 'y-tick-label', 0, 453 + cy - v * sc, 10.5, {right: left - 4}); });
  arcXTickVals.forEach(function (v, i) { label(fig2XLabels[i], 'x-tick-label', left + cx + v * sc, 725, 10.5, {center: true}); });
  label('arcsec', 'x-axis-title', left + W / 2, 739, 10.5, {center: true});
  label('arcsec', 'y-axis-title', left - 40, 585, 10.5, {center: true, rot: true});
}
try { fig2('H', 2005); } catch (err) {}
try { fig2('Ks', 2400); } catch (err) {}

/* ----- Figure 4 ----- */
function minDist(x, y, xsArr, ysArr) {
  var m = 9;
  for (var i = 0; i < xsArr.length; i++) { var d = Math.hypot(x - xsArr[i], y - ysArr[i]); if (d < m) m = d; }
  return m;
}
function fig4(band, left) {
  var W = 231, H = 231, ks = band !== 'H', sc = 243.75, cx = W / 2, cy = H / 2;
  var s = makePanel(ks ? 'figure-4-ks-deprojected-image' : 'figure-4-h-deprojected-image', left, 106, W, H);
  var nx = ks ? ksNEx : hNEx, ny = ks ? ksNEy : hNEy, swx = ks ? ksSWx : hSWx, swy = ks ? ksSWy : hSWy;
  paint(s, W, H, 4, function (u, v, n, sp) {
    var x = (u * W - cx) / sc, y = (cy - v * H) / sc;
    var r = ks ? Math.sqrt((x + 0.01) * (x + 0.01) + (y / 1.25) * (y / 1.25)) : Math.sqrt((x + 0.02) * (x + 0.02) + (y / 1.08) * (y / 1.08));
    var phi = Math.atan2(y, x);
    var ring = gauss(r - 0.17, ks ? 0.075 : 0.065);
    var halo = Math.exp(-Math.max(0, r - 0.17) / (ks ? 0.11 : 0.09)) * (r > 0.12 ? 1 : 0.3);
    var mod = ks ? 0.8 + 0.35 * Math.cos(phi - Math.PI) : 0.75 + 0.25 * Math.cos(phi + 2.36);
    var arm = Math.exp(-Math.pow(Math.min(minDist(x, y, swx, swy), minDist(x, y, nx, ny)) / 0.04, 2));
    return 0.13 + (ks ? 1.0 : 0.8) * ring * mod + (ks ? 0.3 : 0.25) * halo + (ks ? 0.4 : 0.3) * arm + n * 0.08;
  }, hotMap, ks ? 21 : 17);
  function crosses(xa, ya, name) {
    var g = svgEl(s, 'g', {stroke: '#1414e6', 'stroke-width': 1.2, 'shape-rendering': 'auto'});
    
    
    for (var i = 0; i < xa.length; i++) {
      var px = cx + xa[i] * sc, py = cy - ya[i] * sc;
      svgEl(g, 'path', {d: 'M' + (px - 2) + ' ' + (py - 2) + 'L' + (px + 2) + ' ' + (py + 2) + 'M' + (px + 2) + ' ' + (py - 2) + 'L' + (px - 2) + ' ' + (py + 2)});
    }
  }
  crosses(nx, ny, 'north-east-spiral-peaks');
  crosses(swx, swy, 'south-west-spiral-peaks');
  svgText(s, ks ? 'K' : 'H', W - 22, 24, 16, '#e0c000', true, 'band-label');
  if (ks) svgText(s, 's', W - 11, 29, 10, '#e0c000', true, 'band-subscript');
  arcTickVals.forEach(function (v, i) { label(arcTickLabels[i], 'y-tick-label', 0, 106 + cy - v * sc, 13.5, {right: left - 5}); });
  arcXTickVals.forEach(function (v, i) { label(arcXTickLabels[i], 'x-tick-label', left + cx + v * sc, 350, 13.5, {center: true}); });
  label('arcsec', 'x-axis-title', left + W / 2, 369, 13.5, {center: true});
  label('arcsec', 'y-axis-title', left - 49, 222, 13.5, {center: true, rot: true});
  colorbar(ks ? 'figure-4-ks-colorbar' : 'figure-4-h-colorbar', left + 247, 106, 13, 231, cbar4Labels, 13.5);
}
try { fig4('H', 3857); } catch (err) {}
try { fig4('Ks', 4252); } catch (err) {}

/* ----- Figures 5 & 6 polar maps ----- */
function polar(band, top) {
  var W = 263, H = 108, ks = band !== 'H';
  var s = makePanel(ks ? 'figure-6-ks-polar-map' : 'figure-5-h-polar-map', 3839, top, W, H);
  paint(s, W, H, 4, function (u, v, n, sp) {
    var pa = -45 + u * 360, mas = 560 - v * 464;
    var t = 0.12;
    if (!ks) {
      var cen = 200 + 25 * Math.sin(pa * Math.PI / 90);
      var amp = 0.65 + 0.2 * Math.cos((pa - 30) * Math.PI / 90);
      t += amp * gauss(mas - cen, 55);
      t += 0.5 * gauss(mas - 115, 18);
      t += 0.6 * gauss(pa - 255, 22) * gauss(mas - 390, 50);
      t += 0.35 * gauss(pa - 225, 25) * gauss(mas - 300, 50);
    } else {
      t += 1.0 * gauss(pa - 85, 40) * gauss(mas - 220, 70);
      t += 0.5 * gauss(mas - 170, 45);
      var armC = 250 + (pa - 180) * 1.9;
      t += (pa > 170 && pa < 285 ? 0.7 : 0) * gauss(mas - armC, 45);
      t += 0.55 * gauss(mas - 112, 14);
    }
    return t + n * 0.09;
  }, hotMap, ks ? 31 : 29);
  function xsP(pa) { return 3839 + (pa + 45) * (W / 360); }
  function ysM(m) { return top + (560 - m) * (H / 464); }
  polarMas.forEach(function (m) { label(String(m), 'y-tick-label', 0, ysM(m), 12.5, {right: 3835}); });
  polarPA.forEach(function (p) { label(String(p), 'x-tick-label', xsP(p), top + 120, 12.5, {center: true}); });
  label('PA [degree]', 'x-axis-title', 3970, top + 136, 12.5, {center: true});
  label('mas', 'y-axis-title', 3798, top + 54, 12.5, {center: true, rot: true});
  colorbar(ks ? 'figure-6-colorbar' : 'figure-5-colorbar', 4105, top, 13, H, cbar1Labels, 12);
}
try { polar('H', 448); } catch (err) {}
try { polar('Ks', 683); } catch (err) {}
</script>
</div></body></html>
